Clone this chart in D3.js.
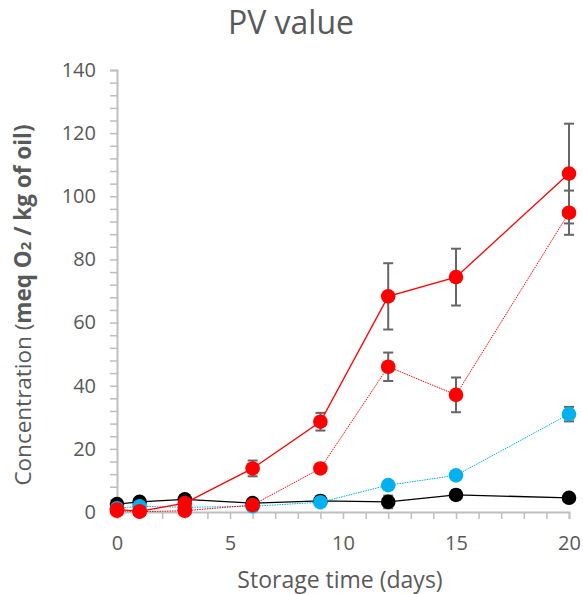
<!DOCTYPE html>
<html>
<head>
<meta charset="utf-8">
<script src="https://cdn.jsdelivr.net/npm/d3@7"></script>
<style>
  body { margin: 0; background: #fff; }
  text { font-family: "Open Sans", sans-serif; fill: #595959; }
</style>
</head>
<body>
<div id="chart"></div>
<script>
const days = [0, 1, 3, 6, 9, 12, 15, 20];

// solid red
const redSolid = [0.8, 0.2, 2.8, 13.8, 28.6, 68.3, 74.4, 107.2];
const redSolidErr = [0, 0, 0, 2.5, 2.8, 10.5, 9, 15.8];
// dotted red
const redDot = [0.4, 0.1, 0.4, 2.2, 13.8, 46, 37.1, 94.8];
const redDotErr = [0, 0, 0, 0, 0.8, 4.5, 5.5, 7];
// dotted blue
const blueDot = [1.2, 1.8, 1.5, 1.8, 3.1, 8.5, 11.6, 31];
const blueDotErr = [0, 0, 0, 0, 0, 0.8, 0.8, 2.3];
// solid black
const black = [2.5, 3.2, 4, 2.8, 3.5, 3.2, 5.4, 4.5];
const blackErr = [0, 0, 0, 0, 1.5, 2, 1.5, 1];

const yTicks = d3.range(0, 141, 4);
const xTicks = d3.range(0, 21, 1);

const series = [
  { vals: black, err: blackErr, color: "#000000", dash: null, w: 1.3 },
  { vals: blueDot, err: blueDotErr, color: "#00b0f0", dash: "1.5,1", w: 1 },
  { vals: redDot, err: redDotErr, color: "#ff0000", dash: "1.5,1", w: 1 },
  { vals: redSolid, err: redSolidErr, color: "#ff0000", dash: null, w: 1.3 }
];

const W = 583, H = 594;
const svg = d3.select("#chart").append("svg")
  .attr("width", W).attr("height", H);

const x = d3.scaleLinear().domain([0, 20]).range([117, 569]);
const y = d3.scaleLinear().domain([0, 140]).range([512, 70]);

// title
svg.append("text")
  .attr("x", 291).attr("y", 34)
  .attr("text-anchor", "middle")
  .style("font-size", "32px")
  .text("PV value");

// y axis
const yAxis = svg.append("g")
  .attr("transform", `translate(${x(0)},0)`)
  .call(d3.axisLeft(y).tickValues(yTicks).tickSize(7).tickPadding(14)
    .tickFormat(d => d % 20 === 0 ? d : ""));
yAxis.select(".domain").attr("stroke", "#bfbfbf").attr("stroke-width", 2);
yAxis.selectAll(".tick line").attr("stroke", "#bfbfbf").attr("stroke-width", 1.5);
yAxis.selectAll(".tick text").style("font-size", "20px").attr("fill", "#595959");

// x axis
const xAxis = svg.append("g")
  .attr("transform", `translate(0,${y(0)})`)
  .call(d3.axisBottom(x).tickValues(xTicks).tickSize(7).tickPadding(17)
    .tickFormat(d => d % 5 === 0 ? d : ""));
xAxis.select(".domain").attr("stroke", "#bfbfbf").attr("stroke-width", 2);
xAxis.selectAll(".tick line").attr("stroke", "#bfbfbf").attr("stroke-width", 1.5);
xAxis.selectAll(".tick text").style("font-size", "20px").attr("fill", "#595959");

// axis titles
svg.append("text")
  .attr("x", 340).attr("y", 588)
  .attr("text-anchor", "middle")
  .style("font-size", "23px")
  .text("Storage time (days)");

const yt = svg.append("text")
  .attr("transform", "translate(31,305) rotate(-90)")
  .attr("text-anchor", "middle")
  .style("font-size", "22.5px");
yt.append("tspan").text("Concentration (");
yt.append("tspan").style("font-weight", "bold").text("meq  O");
yt.append("tspan").style("font-weight", "bold").style("font-size", "15px").text("2");
yt.append("tspan").style("font-weight", "bold").text(" / kg of oil)");

// error bars
series.forEach(s => {
  const pts = days.map((d, i) => ({ d: d, v: s.vals[i], e: s.err[i] })).filter(p => p.e > 0);
  const g = svg.append("g").attr("stroke", "#666666").attr("stroke-width", 2);
  g.selectAll(".ev").data(pts).enter().append("line")
    .attr("x1", p => x(p.d)).attr("x2", p => x(p.d))
    .attr("y1", p => y(p.v - p.e)).attr("y2", p => y(p.v + p.e));
  g.selectAll(".et").data(pts).enter().append("line")
    .attr("x1", p => x(p.d) - 5).attr("x2", p => x(p.d) + 5)
    .attr("y1", p => y(p.v + p.e)).attr("y2", p => y(p.v + p.e));
  g.selectAll(".eb").data(pts).enter().append("line")
    .attr("x1", p => x(p.d) - 5).attr("x2", p => x(p.d) + 5)
    .attr("y1", p => y(p.v - p.e)).attr("y2", p => y(p.v - p.e));
});

// lines and markers
const line = d3.line().x((v, i) => x(days[i])).y(v => y(v));
series.forEach(s => {
  svg.append("path")
    .datum(s.vals)
    .attr("d", line)
    .attr("fill", "none")
    .attr("stroke", s.color)
    .attr("stroke-width", s.w)
    .attr("stroke-dasharray", s.dash);
  svg.append("g").selectAll("circle")
    .data(s.vals)
    .enter().append("circle")
    .attr("cx", (v, i) => x(days[i]))
    .attr("cy", v => y(v))
    .attr("r", 7.3)
    .attr("fill", s.color);
});
</script>
</body>
</html>
